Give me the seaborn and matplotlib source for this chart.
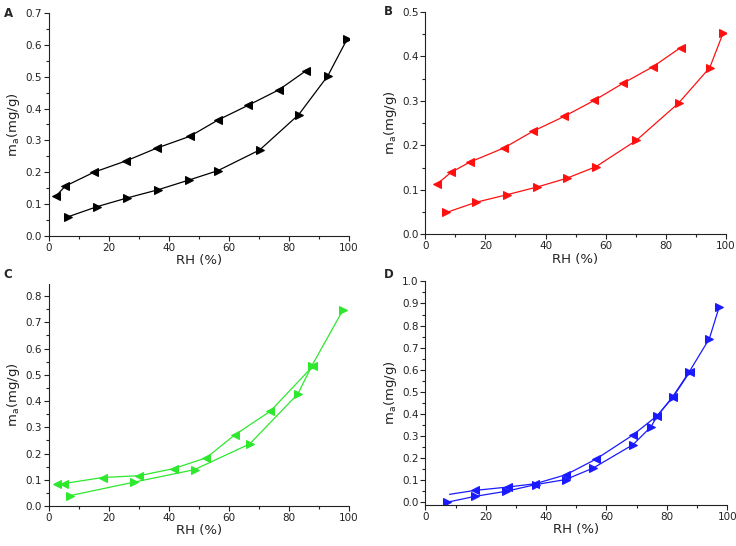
import numpy as np
import matplotlib
matplotlib.use("Agg")
import matplotlib.pyplot as plt
import seaborn as sns
from matplotlib.ticker import MultipleLocator, FormatStrFormatter

# panel A (black)
a_ads_rh = [6.5, 16.2, 26.1, 36.5, 46.6, 56.4, 70.3, 83.3, 93.0, 99.4]
a_ads_m = [0.060, 0.092, 0.119, 0.145, 0.175, 0.205, 0.270, 0.381, 0.503, 0.618]
a_des_rh = [85.6, 76.7, 66.4, 56.4, 47.1, 36.1, 25.9, 15.1, 5.5, 2.4]
a_des_m = [0.518, 0.459, 0.410, 0.364, 0.313, 0.276, 0.236, 0.200, 0.156, 0.124]

# panel B (red)
b_ads_rh = [7.0, 16.9, 27.2, 37.1, 47.1, 56.8, 70.2, 84.3, 94.7, 99.1]
b_ads_m = [0.049, 0.072, 0.089, 0.106, 0.126, 0.152, 0.211, 0.295, 0.375, 0.452]
b_des_rh = [85.0, 75.8, 65.9, 56.2, 46.2, 35.9, 26.1, 14.7, 8.5, 3.7]
b_des_m = [0.420, 0.377, 0.340, 0.301, 0.265, 0.232, 0.194, 0.162, 0.139, 0.112]

# panel C (green)
c_ads_rh = [7.1, 28.3, 48.6, 67.0, 83.0, 87.7, 98.0]
c_ads_m = [0.040, 0.091, 0.139, 0.237, 0.427, 0.535, 0.746]
c_des_rh = [88.2, 73.8, 62.1, 52.5, 41.7, 30.2, 18.0, 5.1, 2.9]
c_des_m = [0.535, 0.361, 0.272, 0.184, 0.143, 0.116, 0.109, 0.086, 0.086]

# panel D (blue)
d_ads_rh = [7.1, 16.5, 26.8, 36.5, 46.5, 55.6, 68.8, 74.7, 76.9, 81.9, 87.4, 94.1, 97.3]
d_ads_m = [0.000, 0.027, 0.050, 0.080, 0.103, 0.155, 0.261, 0.341, 0.392, 0.477, 0.590, 0.741, 0.882]
d_des_rh = [87.6, 82.1, 76.8, 68.8, 56.6, 46.6, 36.4, 27.3, 16.5, 8.0]
d_des_m = [0.590, 0.477, 0.392, 0.305, 0.196, 0.125, 0.084, 0.069, 0.054, 0.036]

panels = [
    ("A", "black", a_ads_rh, a_ads_m, a_des_rh, a_des_m, (0.0, 0.7), None),
    ("B", "#ff1010", b_ads_rh, b_ads_m, b_des_rh, b_des_m, (0.0, 0.5), None),
    ("C", "#2ee82e", c_ads_rh, c_ads_m, c_des_rh, c_des_m, (0.0, 0.846), None),
    ("D", "#1a1aff", d_ads_rh, d_ads_m, d_des_rh, d_des_m, (-0.011, 1.0), len(d_des_rh) - 1),
]

positions = [
    [0.066, 0.568, 0.408, 0.408],
    [0.578, 0.571, 0.408, 0.407],
    [0.066, 0.073, 0.408, 0.407],
    [0.578, 0.0756, 0.410, 0.409],
]
letter_pos = [(0.005, 0.988), (0.522, 0.990), (0.005, 0.510), (0.522, 0.510)]

sns.set_theme(style="ticks")
plt.rcParams['font.family'] = ['DejaVu Sans']
plt.rcParams['mathtext.fontset'] = 'dejavusans'

fig = plt.figure(figsize=(7.36, 5.46), dpi=100)

for i, (letter, color, x1, y1, x2, y2, ylim, skip) in enumerate(panels):
    ax = fig.add_axes(positions[i])
    sns.lineplot(x=x1, y=y1, sort=False, estimator=None, ax=ax, color=color,
                 marker='>', markersize=5.5, markeredgecolor=color, linewidth=0.9)
    marks = list(range(len(x2))) if skip is None else [k for k in range(len(x2)) if k != skip]
    sns.lineplot(x=x2, y=y2, sort=False, estimator=None, ax=ax, color=color,
                 marker='<', markersize=5.5, markeredgecolor=color, linewidth=0.9,
                 markevery=marks)
    ax.set_xlim(0, 100)
    ax.set_ylim(*ylim)
    ax.xaxis.set_major_locator(MultipleLocator(20))
    ax.xaxis.set_minor_locator(MultipleLocator(10))
    ax.yaxis.set_major_locator(MultipleLocator(0.1))
    ax.yaxis.set_minor_locator(MultipleLocator(0.05))
    ax.yaxis.set_major_formatter(FormatStrFormatter('%.1f'))
    ax.tick_params(which='major', length=3.5, width=0.8, labelsize=7.5, pad=1.5, colors='#222222')
    ax.tick_params(which='minor', length=2, width=0.8, colors='#222222')
    for s in ['left', 'bottom']:
        ax.spines[s].set_linewidth(0.8)
        ax.spines[s].set_color('#222222')
    sns.despine(ax=ax)
    ax.set_xlabel("RH (%)", fontsize=9.5, labelpad=1, color='#222222')
    ax.set_ylabel(r"m$_\mathregular{a}$(mg/g)", fontsize=9.5, labelpad=2, color='#222222')
    fig.text(letter_pos[i][0], letter_pos[i][1], letter, fontsize=8.5, fontweight='bold',
             va='top', ha='left')

fig.savefig("out.png", dpi=100)
